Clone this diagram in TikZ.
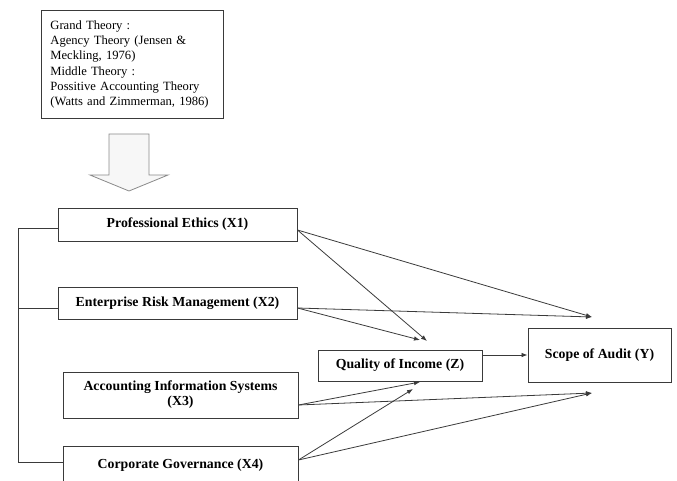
\documentclass[tikz,border=0pt]{standalone}
\usepackage{fontspec}
\setmainfont{Liberation Serif}
\usetikzlibrary{arrows.meta,positioning,calc}
\definecolor{inkline}{HTML}{3A3A3A}
\definecolor{arrowgray}{HTML}{8A8A8A}
\tikzset{
  varbox/.style={draw=inkline, line width=0.9pt, align=center,
    font=\fontsize{13.8}{15}\selectfont\bfseries, inner sep=2pt},
  theorybox/.style={draw=inkline, line width=0.9pt, align=left,
    font=\fontsize{12.6}{15.3}\selectfont, anchor=north west,
    text width=164pt, inner xsep=9pt, inner ysep=5pt},
  link/.style={draw=inkline, line width=0.8pt},
  arr/.style={-{Latex[length=6pt,width=4.5pt]}, draw=inkline, line width=0.8pt}
}

\begin{document}
\begin{tikzpicture}[x=1pt, y=-1pt]
    \useasboundingbox (0,0) rectangle (677,481);
    \clip (0,0) rectangle (677,481);
    \node[theorybox, minimum width=182pt, minimum height=108pt] (theory) at (41,10)
      {Grand Theory :\\Agency Theory (Jensen \&\\Meckling, 1976)\\Middle Theory :\\Possitive Accounting Theory\\(Watts and Zimmerman, 1986)};
    \draw[draw=arrowgray, line width=0.8pt, fill=black!3]
      (109,134) -- (149,134) -- (149,175) -- (168,175) -- (129,191) -- (90,175) -- (109,175) -- cycle;
    \node[varbox, minimum width=239pt, minimum height=33pt] (x1) at (177.5,224.5) {Professional Ethics (X1)};
    \node[varbox, minimum width=239pt, minimum height=32pt] (x2) at (177.5,303) {Enterprise Risk Management (X2)};
    \node[varbox, minimum width=235pt, minimum height=46pt] (x3) at (180.5,395) {Accounting Information Systems\\(X3)};
    \node[varbox, minimum width=235pt, minimum height=38pt] (x4) at (180.5,465) {Corporate Governance (X4)};
    \node[varbox, minimum width=164pt, minimum height=31pt] (z) at (400,365.5) {Quality of Income (Z)};
    \node[varbox, minimum width=143pt, minimum height=54pt] (y) at (599.5,355) {Scope of Audit (Y)};
    \coordinate (bus) at (18,228);
    \coordinate (zTopA) at (427,341);
    \coordinate (zTopB) at (420,340);
    \coordinate (zBotA) at (420,382);
    \coordinate (zBotB) at (413,389);
    \coordinate (yTop) at (592,317);
    \coordinate (yBot) at (592,393);
    \draw[link] ([yshift=-3.5pt]x1.west) -- (bus) |- ([yshift=3pt]x4.west);
    \draw[link] ([yshift=-5pt]x2.west) -- ([yshift=-5pt]x2.west -| bus);
    \draw[arr] ([yshift=-5.5pt]x1.east) -- (zTopA);
    \draw[arr] ([yshift=-5.5pt]x1.east) -- (yTop);
    \draw[arr] ([yshift=-5pt]x2.east) -- (zTopB);
    \draw[arr] ([yshift=-5pt]x2.east) -- (yTop);
    \draw[arr] ([yshift=-10pt]x3.east) -- (zBotA);
    \draw[arr] ([yshift=-10pt]x3.east) -- (yBot);
    \draw[arr] ([yshift=5pt]x4.east) -- (zBotB);
    \draw[arr] ([yshift=5pt]x4.east) -- (yBot);
    \draw[arr] ([yshift=10.5pt]z.east) -- ([yshift=10.5pt]z.east -| y.west);
  \end{tikzpicture}
\end{document}
